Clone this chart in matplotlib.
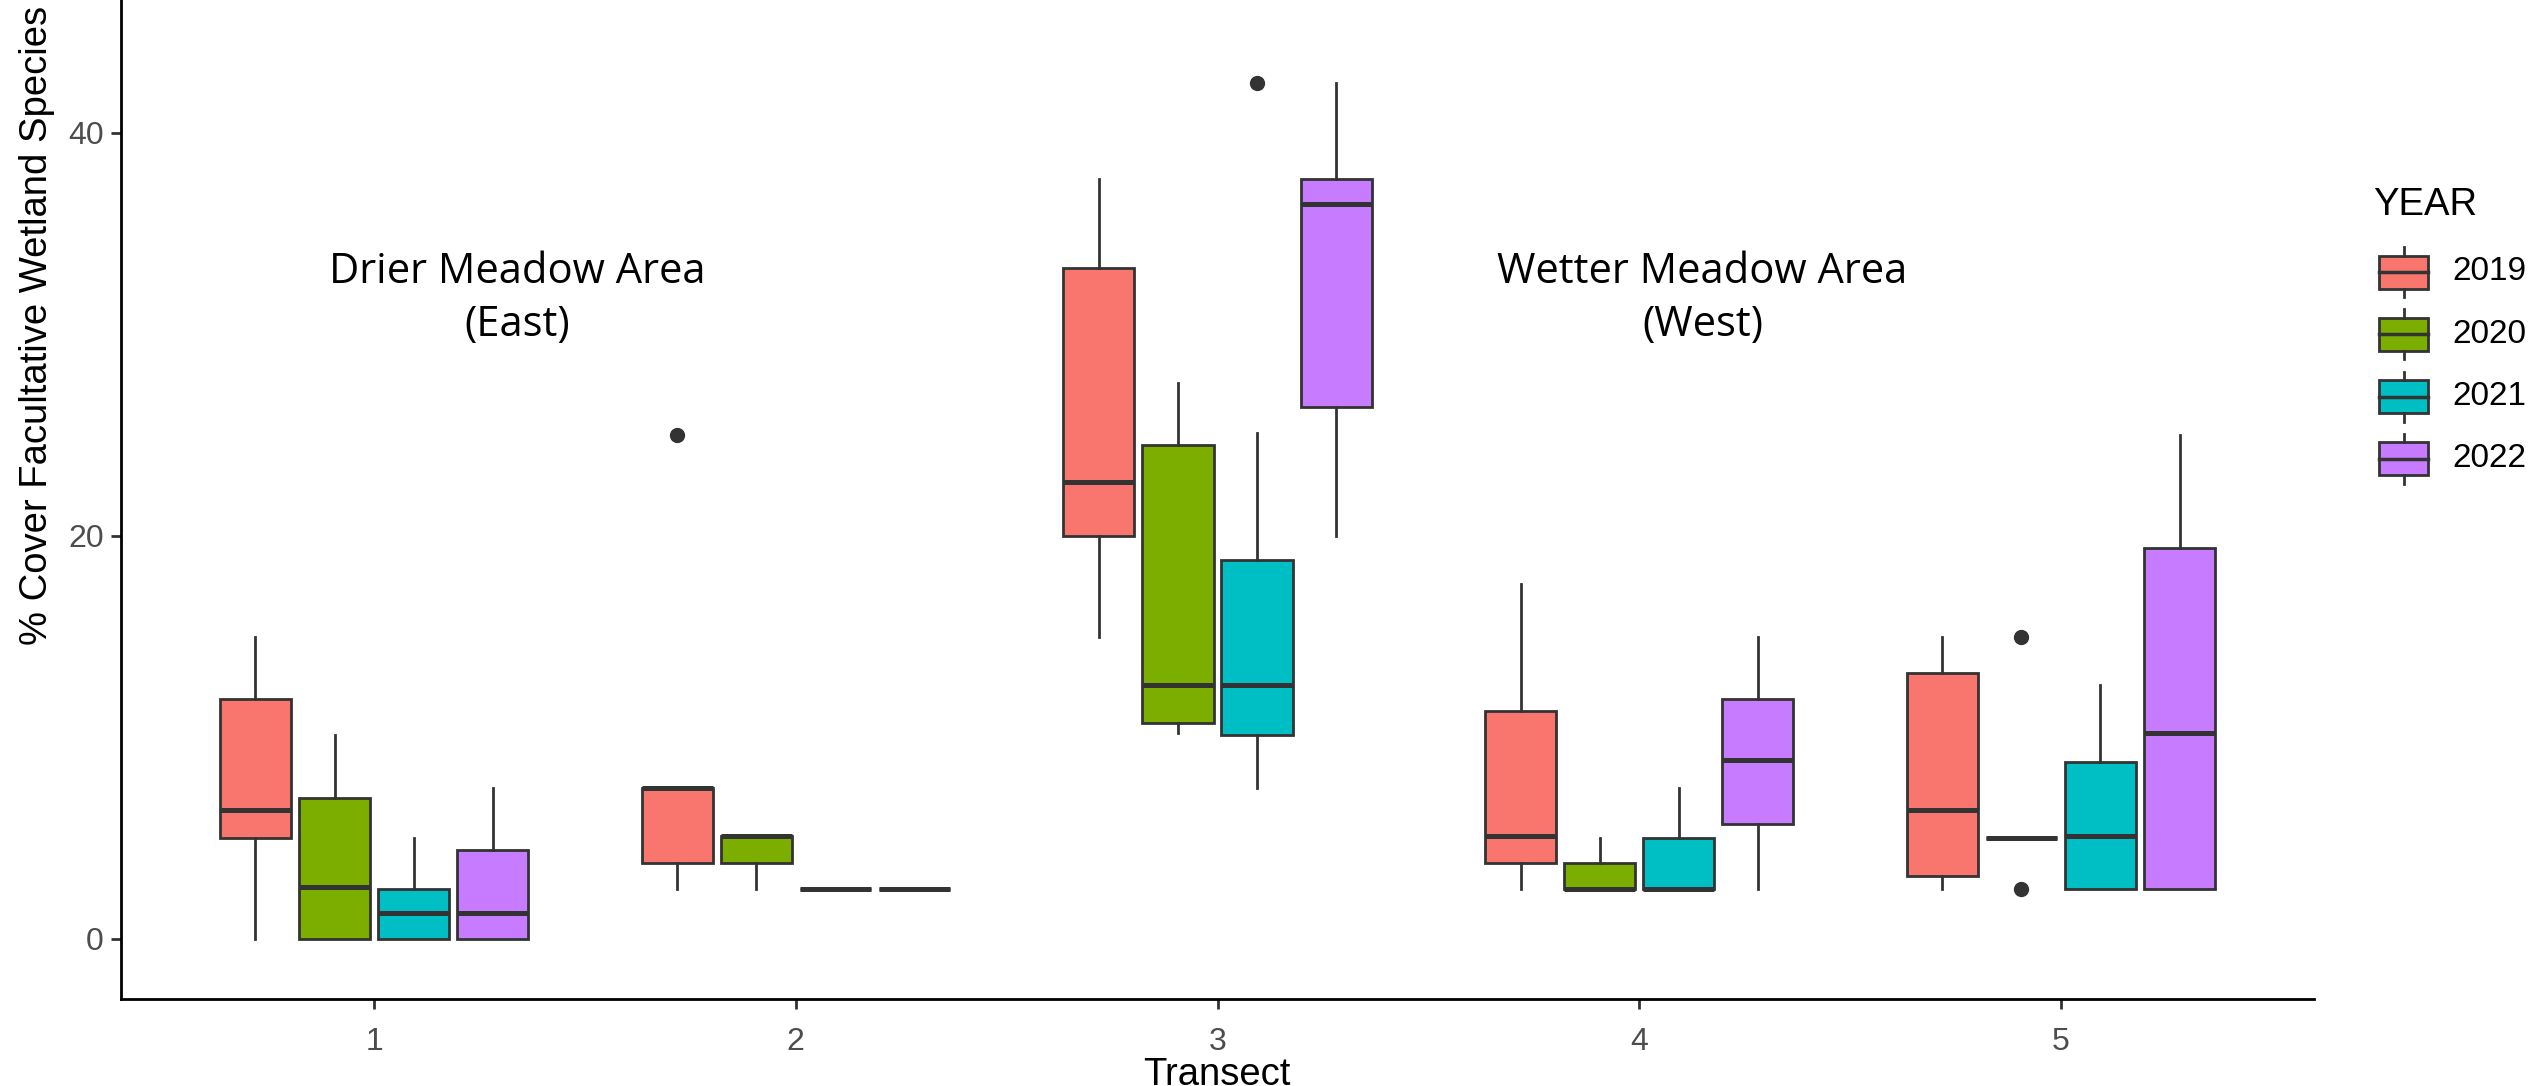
import matplotlib
matplotlib.use("Agg")
import matplotlib.pyplot as plt
from matplotlib.patches import Rectangle

# transect categories and year groups
transects = [1, 2, 3, 4, 5]
years = ["2019", "2020", "2021", "2022"]
colors = ["#F8766D", "#7CAE00", "#00BFC4", "#C77CFF"]

# box statistics per year, one value per transect
whislo_2019 = [0.0, 2.5, 15.0, 2.5, 2.5]
q1_2019 = [5.0, 3.75, 20.0, 3.75, 3.1]
med_2019 = [6.4, 7.5, 22.7, 5.1, 6.4]
q3_2019 = [11.9, 7.5, 33.3, 11.3, 13.2]
whishi_2019 = [15.0, 7.5, 37.7, 17.6, 15.0]
fliers_2019 = [[], [25.0], [], [], []]

whislo_2020 = [0.0, 2.5, 10.2, 2.5, 5.0]
q1_2020 = [0.0, 3.75, 10.7, 2.5, 5.0]
med_2020 = [2.6, 5.1, 12.6, 2.5, 5.0]
q3_2020 = [7.0, 5.1, 24.5, 3.75, 5.0]
whishi_2020 = [10.1, 5.1, 27.6, 5.0, 5.0]
fliers_2020 = [[], [], [], [], [15.0, 2.5]]

whislo_2021 = [0.0, 2.5, 7.5, 2.5, 2.5]
q1_2021 = [0.0, 2.5, 10.1, 2.5, 2.5]
med_2021 = [1.3, 2.5, 12.6, 2.5, 5.1]
q3_2021 = [2.5, 2.5, 18.8, 5.0, 8.8]
whishi_2021 = [5.0, 2.5, 25.1, 7.5, 12.6]
fliers_2021 = [[], [], [42.5], [], []]

whislo_2022 = [0.0, 2.5, 20.0, 2.5, 2.5]
q1_2022 = [0.0, 2.5, 26.4, 5.7, 2.5]
med_2022 = [1.3, 2.5, 36.5, 8.9, 10.2]
q3_2022 = [4.4, 2.5, 37.7, 11.9, 19.4]
whishi_2022 = [7.5, 2.5, 42.5, 15.0, 25.0]
fliers_2022 = [[], [], [], [], []]

stats_by_year = [
    (whislo_2019, q1_2019, med_2019, q3_2019, whishi_2019, fliers_2019),
    (whislo_2020, q1_2020, med_2020, q3_2020, whishi_2020, fliers_2020),
    (whislo_2021, q1_2021, med_2021, q3_2021, whishi_2021, fliers_2021),
    (whislo_2022, q1_2022, med_2022, q3_2022, whishi_2022, fliers_2022),
]

W, H = 2539, 1086
fig = plt.figure(figsize=(W / 100, H / 100), dpi=100)
ax = fig.add_axes([121 / W, 1 - 999 / H, (2314 - 121) / W, 999 / H])

edge = "#333333"
dodge = 0.75
n = len(years)
box_w = dodge / n * 0.9

for i, (lo, q1, med, q3, hi, fl) in enumerate(stats_by_year):
    offset = -dodge / 2 + dodge / n * (i + 0.5)
    stats = []
    for j in range(len(transects)):
        stats.append(dict(whislo=lo[j], q1=q1[j], med=med[j], q3=q3[j],
                          whishi=hi[j], fliers=fl[j]))
    ax.bxp(stats, positions=[t + offset for t in transects], widths=box_w,
           patch_artist=True, showcaps=False, manage_ticks=False,
           boxprops=dict(facecolor=colors[i], edgecolor=edge, linewidth=2.0),
           medianprops=dict(color=edge, linewidth=3.6, solid_capstyle="butt"),
           whiskerprops=dict(color=edge, linewidth=2.0),
           flierprops=dict(marker="o", markerfacecolor=edge, markeredgecolor=edge,
                           markersize=10))

ax.set_xlim(0.4, 5.6)
ax.set_ylim(-2.98, 46.6)
ax.set_xticks(transects)
ax.set_xticklabels([str(t) for t in transects])
ax.set_yticks([0, 20, 40])

for s in ["top", "right"]:
    ax.spines[s].set_visible(False)
for s in ["left", "bottom"]:
    ax.spines[s].set_linewidth(2.0)
    ax.spines[s].set_color("black")
ax.tick_params(length=7, width=2, color=edge, labelcolor="#4D4D4D",
               labelsize=23, pad=5.5)
ax.tick_params(axis="x", pad=13)
for lab in ax.get_xticklabels() + ax.get_yticklabels():
    lab.set_family("Liberation Sans")

ax.text(1.34, 31.8, "Drier Meadow Area\n(East)", ha="center", va="center",
        fontsize=30, family="Open Sans", linespacing=1.35)
ax.text(4.15, 31.8, "Wetter Meadow Area\n(West)", ha="center", va="center",
        fontsize=30, family="Open Sans", linespacing=1.35)

fig.text(37 / W, 1 - 325 / H, "% Cover Facultative Wetland Species", rotation=90,
         ha="center", va="center", fontsize=27.5, family="Liberation Sans")
fig.text(1217 / W, 1 - 1057 / H, "Transect", ha="center", va="top",
         fontsize=27.5, family="Liberation Sans")

# legend drawn in pixel space
leg = fig.add_axes([0, 0, 1, 1], facecolor="none")
leg.set_xlim(0, W)
leg.set_ylim(H, 0)
leg.axis("off")
leg.text(2373, 205, "YEAR", ha="left", va="center", fontsize=27.5,
         family="Liberation Sans")
kx0, kx1 = 2379, 2428
for i, yr in enumerate(years):
    yc = 272 + i * 62.3
    leg.add_patch(Rectangle((kx0, yc - 16.5), kx1 - kx0, 33, facecolor=colors[i],
                            edgecolor=edge, linewidth=2.0))
    leg.plot([kx0, kx1], [yc, yc], color=edge, linewidth=2.5)
    xm = (kx0 + kx1) / 2
    leg.plot([xm, xm], [yc - 25, yc - 16.5], color=edge, linewidth=2.0)
    leg.plot([xm, xm], [yc + 16.5, yc + 25], color=edge, linewidth=2.0)
    leg.text(2452, yc, yr, ha="left", va="center", fontsize=24,
             family="Liberation Sans")

fig.savefig("out.png", dpi=100)
